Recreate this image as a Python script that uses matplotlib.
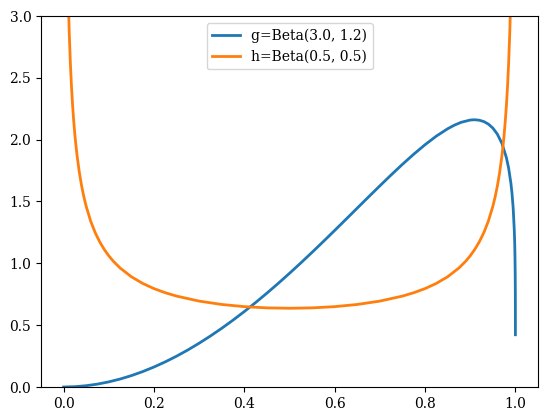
import matplotlib
matplotlib.use("Agg")
import matplotlib.pyplot as plt

plt.rcParams['font.family'] = 'DejaVu Serif'

# g = Beta(3.0, 1.2)
x_g = [0.0, 0.025, 0.05, 0.075, 0.1, 0.125, 0.15, 0.175, 0.2, 0.225, 0.25, 0.275,
       0.3, 0.325, 0.35, 0.375, 0.4, 0.425, 0.45, 0.475, 0.5, 0.525, 0.55, 0.575,
       0.6, 0.625, 0.65, 0.675, 0.7, 0.725, 0.75, 0.775, 0.8, 0.825, 0.85, 0.865,
       0.88, 0.9, 0.91, 0.92, 0.93, 0.94, 0.95, 0.96, 0.97, 0.98, 0.985, 0.99,
       0.9925, 0.995, 0.9975, 0.998, 0.9985, 0.999, 0.9995, 0.9998, 0.9999,
       0.99995, 0.99998, 0.99999]
y_g = [0.0, 0.0026, 0.0105, 0.0234, 0.0414, 0.0643, 0.092, 0.1245, 0.1616, 0.2032,
       0.2492, 0.2995, 0.354, 0.4124, 0.4747, 0.5407, 0.6102, 0.683, 0.759, 0.8378,
       0.9193, 1.0032, 1.0892, 1.1769, 1.266, 1.3561, 1.4467, 1.5371, 1.6268, 1.715,
       1.8007, 1.8826, 1.9593, 2.0288, 2.0882, 2.1174, 2.1405, 2.1588, 2.161, 2.1573,
       2.1464, 2.1263, 2.0939, 2.0449, 1.9711, 1.8552, 1.7693, 1.6482, 1.5638,
       1.4493, 1.2681, 1.2139, 1.1557, 1.0589, 0.9227, 0.7687, 0.6693, 0.5827,
       0.4852, 0.4224]

# h = Beta(0.5, 0.5), left half (curve is symmetric)
x_h_left = [0.001, 0.003, 0.005, 0.0075, 0.01, 0.0125, 0.015, 0.0175, 0.02, 0.0225,
            0.025, 0.0275, 0.03, 0.035, 0.04, 0.045, 0.05, 0.06, 0.07, 0.08, 0.09,
            0.1, 0.11, 0.125, 0.15, 0.175, 0.2, 0.225, 0.25, 0.3, 0.35, 0.4, 0.45,
            0.5]
y_h_left = [10.071, 5.8203, 4.5129, 3.6894, 3.1991, 2.865, 2.6187, 2.4275, 2.2736,
            2.1463, 2.0388, 1.9464, 1.866, 1.732, 1.6244, 1.5355, 1.4605, 1.3403,
            1.2476, 1.1733, 1.1123, 1.061, 1.0173, 0.9625, 0.8915, 0.8377, 0.7958,
            0.7623, 0.7351, 0.6946, 0.6674, 0.6497, 0.6398, 0.6366]

x_h = x_h_left + [round(1 - v, 6) for v in reversed(x_h_left[:-1])]
y_h = y_h_left + list(reversed(y_h_left[:-1]))

fig = plt.figure(figsize=(5.46, 4.19), dpi=100)
ax = fig.add_axes([41 / 546, 32 / 419, 497 / 546, 371 / 419])

ax.plot(x_g, y_g, label="g=Beta(3.0, 1.2)", lw=2)
ax.plot(x_h, y_h, label="h=Beta(0.5, 0.5)", lw=2)
ax.set_ylim(0, 3)
ax.legend(loc="upper center")

fig.savefig("out.png", dpi=100)
